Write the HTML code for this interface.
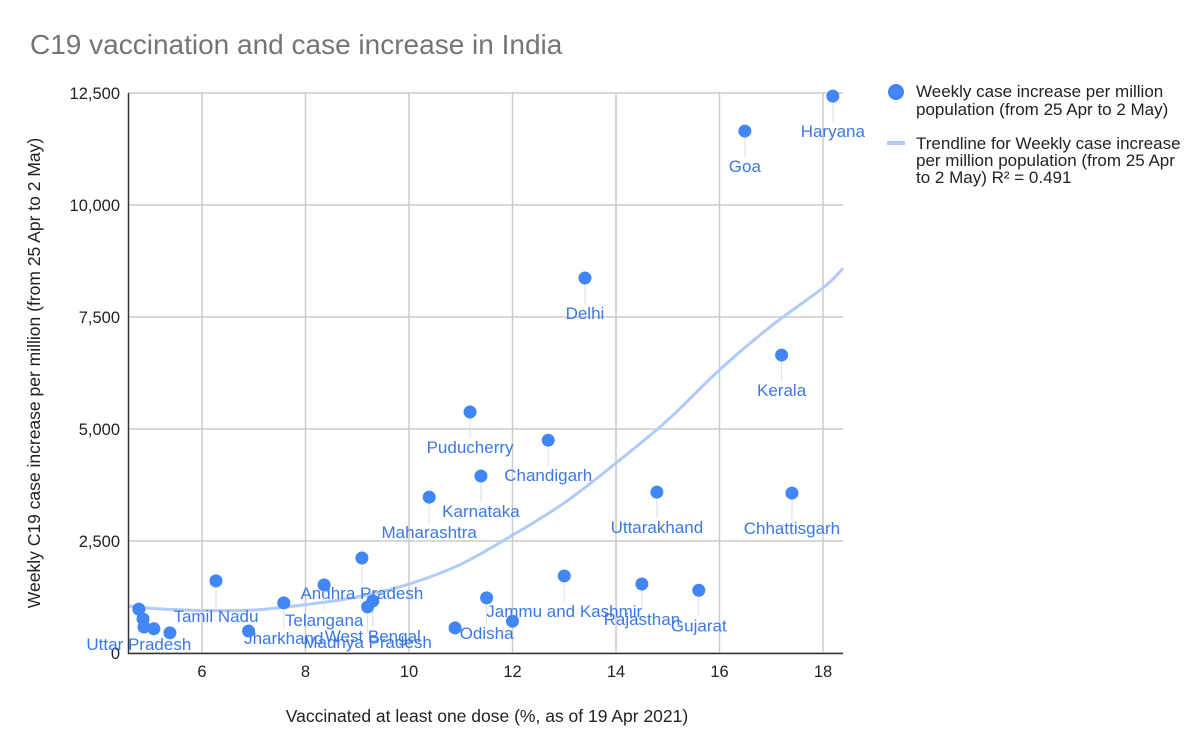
<!DOCTYPE html>
<html><head><meta charset="utf-8"><style>
body{margin:0;background:#fff;font-family:"Liberation Sans",Arial,sans-serif}
svg text{font-family:"Liberation Sans",Arial,sans-serif}
</style></head><body>
<svg id="chart" width="1200" height="736" xmlns="http://www.w3.org/2000/svg">
<text x="30" y="54" font-size="28" fill="#757575">C19 vaccination and case increase in India</text>
<g id="grid"></g><g id="trend"></g><g id="labels"></g><g id="points"></g>
<line x1="128" y1="653.5" x2="843" y2="653.5" stroke="#333" stroke-width="1.5"/>
<line x1="128.5" y1="93" x2="128.5" y2="654" stroke="#333" stroke-width="1.5"/>
<text x="487" y="722" font-size="17.5" text-anchor="middle" fill="#222">Vaccinated at least one dose (%, as of 19 Apr 2021)</text>
<text transform="translate(40,373) rotate(-90)" font-size="17.5" text-anchor="middle" fill="#222">Weekly C19 case increase per million (from 25 Apr to 2 May)</text>
<g>
<circle cx="896" cy="92" r="8" fill="#4285f4"/>
<text font-size="17" fill="#222"><tspan x="916" y="97">Weekly case increase per million</tspan><tspan x="916" y="115">population (from 25 Apr to 2 May)</tspan></text>
<rect x="887" y="141" width="18" height="4" fill="#aecbfa"/>
<text font-size="17" fill="#222"><tspan x="916" y="149">Trendline for Weekly case increase</tspan><tspan x="916" y="166">per million population (from 25 Apr</tspan><tspan x="916" y="183">to 2 May) R² = 0.491</tspan></text>
</g>
</svg>
<script>
const xs=[18.19,16.49,13.40,17.2,11.18,12.69,11.39,10.39,14.79,17.4,9.09,6.27,8.36,7.58,9.3,9.2,6.9,10.89,11.5,12.0,13.0,14.5,15.6,4.78,4.86,4.88,5.07,5.38];
const ys=[12430,11650,8370,6650,5380,4750,3950,3480,3590,3570,2120,1610,1520,1120,1160,1030,490,560,1230,710,1720,1540,1400,980,760,580,540,450];
const names=["Haryana","Goa","Delhi","Kerala","Puducherry","Chandigarh","Karnataka","Maharashtra","Uttarakhand","Chhattisgarh","Andhra Pradesh","Tamil Nadu","Telangana","Jharkhand","West Bengal","Madhya Pradesh","","","Odisha","","Jammu and Kashmir","Rajasthan","Gujarat","Uttar Pradesh","","","",""];
const trendX=[4.6,5,6,7,8,9,10,11,12,13,14,15,16,17,18,18.39];
const trendY=[1050,1000,950,960,1080,1250,1540,1980,2630,3350,4240,5200,6320,7300,8150,8590];
const xTicks=[6,8,10,12,14,16,18];
const yTicks=[0,2500,5000,7500,10000,12500];
const yTickLabels=["0","2,500","5,000","7,500","10,000","12,500"];
const X=v=>202+(v-6)*51.75, Y=v=>653-v*0.0448;
const NS="http://www.w3.org/2000/svg";
function mk(t,a,p){const e=document.createElementNS(NS,t);for(const k in a)e.setAttribute(k,a[k]);document.getElementById(p).appendChild(e);return e;}
xTicks.forEach(t=>{const l=mk('line',{x1:X(t),x2:X(t),y1:93,y2:653,stroke:'#ccc','stroke-width':1.5},'grid');


const tx=mk('text',{x:X(t),y:677,'font-size':16.5,'text-anchor':'middle',fill:'#222'},'grid');tx.textContent=t;

});
yTicks.forEach((t,i)=>{const l=mk('line',{x1:128,x2:843,y1:Y(t),y2:Y(t),stroke:'#ccc','stroke-width':1.5},'grid');


const tx=mk('text',{x:120,y:Y(t)+6,'font-size':16.5,'text-anchor':'end',fill:'#222'},'grid');tx.textContent=yTickLabels[i];

});
const P=trendX.map((x,i)=>[X(x),Y(trendY[i])]);
let d='M'+P[0][0]+','+P[0][1];
for(let i=0;i<P.length-1;i++){const p0=P[Math.max(0,i-1)],p1=P[i],p2=P[i+1],p3=P[Math.min(P.length-1,i+2)];
d+=' C'+(p1[0]+(p2[0]-p0[0])/6)+','+(p1[1]+(p2[1]-p0[1])/6)+' '+(p2[0]-(p3[0]-p1[0])/6)+','+(p2[1]-(p3[1]-p1[1])/6)+' '+p2[0]+','+p2[1];}
const tr=mk('path',{d:d,fill:'none',stroke:'#aecbfa','stroke-width':3},'trend');


xs.forEach((x,i)=>{const px=X(x),py=Y(ys[i]);
if(names[i]){const ln=mk('line',{x1:px,x2:px,y1:py+6,y2:py+26,stroke:'#ddd','stroke-width':1},'labels');


const t=mk('text',{x:px,y:py+41,'font-size':17,'text-anchor':'middle',fill:'#3b78e7'},'labels');t.textContent=names[i];

}
const c=mk('circle',{cx:px,cy:py,r:6.5,fill:'#4285f4'},'points');

});
</script>
</body></html>
